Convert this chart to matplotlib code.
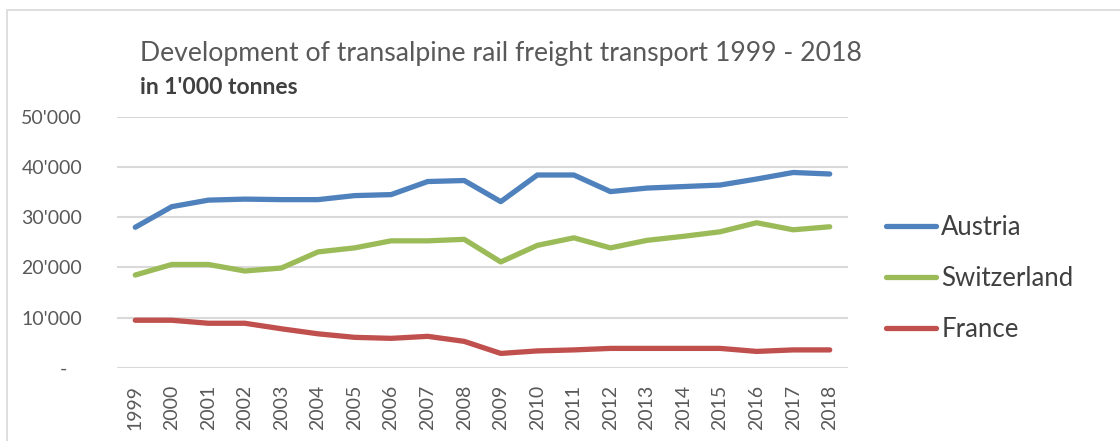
import matplotlib.pyplot as plt
from matplotlib.ticker import FixedLocator, FuncFormatter

plt.rcParams['font.family'] = ['Lato', 'DejaVu Sans']

years = [str(y) for y in range(1999, 2019)]
austria = [28000, 32100, 33400, 33600, 33500, 33500, 34300, 34500, 37100, 37300,
           33100, 38400, 38400, 35100, 35800, 36100, 36400, 37600, 38900, 38600]
switzerland = [18500, 20600, 20600, 19300, 19900, 23100, 23900, 25300, 25300, 25600,
               21100, 24400, 25900, 23900, 25400, 26200, 27100, 28900, 27500, 28100]
france = [9500, 9500, 8900, 8900, 7800, 6800, 6100, 5900, 6300, 5300,
          2900, 3400, 3600, 3900, 3900, 3900, 3900, 3300, 3600, 3600]

series = [("Austria", austria, "#4F81BD"),
          ("Switzerland", switzerland, "#9BBB59"),
          ("France", france, "#C0504D")]

fig = plt.figure(figsize=(11.2, 4.41), dpi=100)
ax = fig.add_axes([117 / 1120, 1 - 368 / 441, (848 - 117) / 1120, (368 - 116.7) / 441])

x = range(len(years))
for name, vals, col in series:
    ax.plot(x, vals, color=col, lw=3.8, label=name, solid_capstyle='round', solid_joinstyle='round')

ax.set_xlim(-0.5, len(years) - 0.5)
ax.set_ylim(0, 50000)
ax.yaxis.set_major_locator(FixedLocator([0, 10000, 20000, 30000, 40000, 50000]))

def fmt(v, pos):
    if v == 0:
        return "-   "
    return f"{int(v):,}".replace(",", "'")

ax.yaxis.set_major_formatter(FuncFormatter(fmt))
ax.set_xticks(list(x))
ax.set_xticklabels(years, rotation=90)
ax.tick_params(axis='both', length=0, colors='#595959', labelsize=14)
ax.tick_params(axis='y', pad=25)
ax.tick_params(axis='x', pad=12)
ax.grid(axis='y', color='#d9d9d9', lw=1.5)
ax.set_axisbelow(True)
for s in ax.spines.values():
    s.set_visible(False)

fig.text(140 / 1120, 1 - 53 / 441, "Development of transalpine rail freight transport 1999 - 2018",
         fontsize=19.2, color='#595959', va='center', ha='left')
fig.text(140 / 1120, 1 - 88 / 441, "in 1'000 tonnes", fontsize=16.5, fontweight='bold',
         color='#404040', va='center', ha='left')

leg = ax.legend(loc='upper left', bbox_to_anchor=(863 / 1120, 1 - 192 / 441),
                bbox_transform=fig.transFigure, frameon=False, fontsize=18.5,
                handlelength=1.95, handletextpad=0.2, labelspacing=1.0)
for t in leg.get_texts():
    t.set_color('#404040')

# chart area border
fig.patches.append(plt.Rectangle((7 / 1120, -0.1), 1.2, 1 - 10 / 441 + 0.1,
                                 transform=fig.transFigure, fill=False,
                                 edgecolor='#d9d9d9', lw=1.2))

fig.savefig("out.png", dpi=100)
